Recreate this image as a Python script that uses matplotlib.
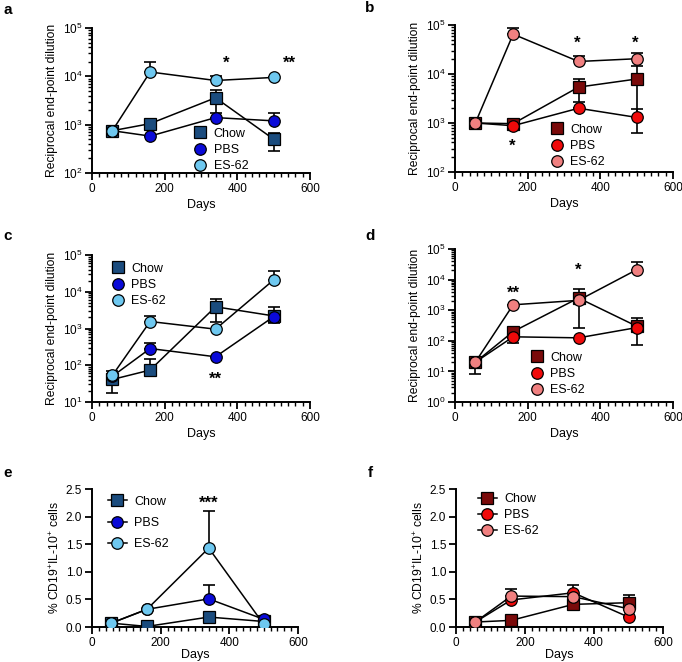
import matplotlib
matplotlib.use("Agg")
import matplotlib.pyplot as plt
from matplotlib.ticker import MultipleLocator, LogLocator, NullFormatter, FormatStrFormatter
import numpy as np

plt.rcParams['font.family'] = ['Liberation Sans', 'DejaVu Sans']
plt.rcParams['mathtext.default'] = 'regular'

days = [56, 160, 340, 500]
series_names = ["Chow", "PBS", "ES-62"]
blue_colors = ["#1B4C7E", "#0A0AD8", "#6EC8F0"]
red_colors = ["#7A0A0A", "#F00A0A", "#F08080"]
markers = ["s", "o", "o"]

# panel a
a_vals = {"Chow": [750, 1050, 3600, 500], "PBS": [750, 580, 1400, 1200], "ES-62": [750, 12300, 8200, 9500]}
a_lo = {"Chow": [700, 1050, 1750, 290], "PBS": [750, 580, 1400, 1200], "ES-62": [750, 12300, 8200, 9500]}
a_hi = {"Chow": [800, 1050, 5300, 680], "PBS": [750, 580, 1400, 1750], "ES-62": [750, 19800, 10000, 9500]}
a_stars = [("*", 369, 19000), ("**", 542, 19000)]

# panel b
b_vals = {"Chow": [1000, 970, 5400, 7900], "PBS": [1000, 880, 2000, 1300], "ES-62": [1000, 65000, 18000, 20500]}
b_lo = {"Chow": [1000, 970, 2650, 620], "PBS": [1000, 880, 2000, 1300], "ES-62": [1000, 65000, 18000, 20500]}
b_hi = {"Chow": [1000, 970, 7900, 14800], "PBS": [1000, 880, 2000, 1900], "ES-62": [1000, 85000, 23700, 26500]}
b_stars = [("*", 157, 330), ("*", 336, 42000), ("*", 495, 42000)]

# panel c
c_vals = {"Chow": [41, 74, 3900, 2200], "PBS": [50, 285, 170, 2100], "ES-62": [53, 1550, 960, 21000]}
c_lo = {"Chow": [18, 74, 1520, 1370], "PBS": [50, 285, 170, 2100], "ES-62": [53, 1550, 960, 21000]}
c_hi = {"Chow": [70, 145, 6300, 3900], "PBS": [50, 410, 170, 2100], "ES-62": [53, 2250, 960, 36000]}
c_stars = [("**", 339, 42)]

# panel d
d_vals = {"Chow": [20, 200, 2500, 300], "PBS": [20, 135, 125, 270], "ES-62": [20, 1500, 2100, 21000]}
d_lo = {"Chow": [8, 200, 270, 75], "PBS": [20, 85, 125, 270], "ES-62": [20, 1500, 2100, 21000]}
d_hi = {"Chow": [28, 250, 5000, 550], "PBS": [20, 135, 125, 270], "ES-62": [20, 1500, 2100, 37000]}
d_stars = [("**", 160, 3600), ("*", 339, 20000)]

# panel e
e_vals = {"Chow": [0.07, 0.01, 0.18, 0.10], "PBS": [0.07, 0.32, 0.51, 0.14], "ES-62": [0.07, 0.32, 1.43, 0.05]}
e_lo = {"Chow": [0.07, 0.01, 0.18, 0.10], "PBS": [0.07, 0.32, 0.51, 0.14], "ES-62": [0.07, 0.32, 1.43, 0.05]}
e_hi = {"Chow": [0.07, 0.01, 0.18, 0.10], "PBS": [0.07, 0.32, 0.76, 0.14], "ES-62": [0.07, 0.32, 2.10, 0.05]}
e_stars = [("***", 341, 2.25)]

# panel f
f_vals = {"Chow": [0.09, 0.12, 0.41, 0.44], "PBS": [0.09, 0.49, 0.62, 0.18], "ES-62": [0.09, 0.56, 0.55, 0.33]}
f_lo = {"Chow": [0.09, 0.12, 0.41, 0.30], "PBS": [0.09, 0.49, 0.62, 0.18], "ES-62": [0.09, 0.56, 0.55, 0.33]}
f_hi = {"Chow": [0.09, 0.12, 0.41, 0.58], "PBS": [0.09, 0.49, 0.76, 0.18], "ES-62": [0.09, 0.69, 0.55, 0.33]}
f_stars = []

ylab_log = "Reciprocal end-point dilution"
ylab_lin = "% CD19$^{+}$IL-10$^{+}$ cells"

W, H = 682, 662
fig = plt.figure(figsize=(W / 100, H / 100), dpi=100)


def px_axes(l, r, t, b):
    return fig.add_axes([l / W, 1 - b / H, (r - l) / W, (b - t) / H])


def draw(ax, vals, lo, hi, colors, stars, log, ylim, ylabel, leg_anchor, leg_lines, leg_spacing, xlabelpad=3):
    handles = []
    for name, col, mk in zip(series_names, colors, markers):
        v = np.array(vals[name], float)
        yerr = np.vstack([v - np.array(lo[name]), np.array(hi[name]) - v])
        ax.errorbar(days, v, yerr=yerr, fmt="none", ecolor="black", elinewidth=1.2,
                    capsize=4, capthick=1.2, zorder=2)
        ax.plot(days, v, color="black", lw=1.1, zorder=3)
        ax.plot(days, v, ls="none", marker=mk, ms=8.3, mfc=col, mec="black", mew=0.9, zorder=4)
        h, = ax.plot([], [], color="black", lw=1.1 if leg_lines else 0, ls="-" if leg_lines else "none",
                     marker=mk, ms=8.3, mfc=col, mec="black", mew=0.9)
        handles.append(h)
    for s, x, y in stars:
        ax.text(x, y, s, ha="center", va="center", fontsize=12, fontweight="bold")
    ax.set_xlim(0, 600)
    ax.set_ylim(*ylim)
    if log:
        ax.set_yscale("log")
        ax.yaxis.set_major_locator(LogLocator(base=10, numticks=10))
        ax.yaxis.set_minor_locator(LogLocator(base=10, subs=np.arange(2, 10), numticks=20))
        ax.yaxis.set_minor_formatter(NullFormatter())
    else:
        ax.yaxis.set_major_locator(MultipleLocator(0.5))
        ax.yaxis.set_major_formatter(FormatStrFormatter("%.1f"))
    ax.xaxis.set_major_locator(MultipleLocator(200))
    ax.xaxis.set_minor_locator(MultipleLocator(20))
    for sp in ["top", "right"]:
        ax.spines[sp].set_visible(False)
    for sp in ["left", "bottom"]:
        ax.spines[sp].set_linewidth(1.4)
    ax.tick_params(which="major", length=5, width=1.3, labelsize=8.5, pad=2)
    ax.tick_params(which="minor", length=3, width=1.0)
    ax.set_xlabel("Days", fontsize=9, labelpad=xlabelpad)
    ax.set_ylabel(ylabel, fontsize=8.7, labelpad=3)
    ax.legend(handles, series_names, loc="center left", bbox_to_anchor=leg_anchor, frameon=False,
              fontsize=9, borderpad=0, borderaxespad=0, handlelength=1.5 if leg_lines else 1.0,
              handletextpad=0.6, labelspacing=leg_spacing)


ax_a = px_axes(92, 310, 28, 173)
draw(ax_a, a_vals, a_lo, a_hi, blue_colors, a_stars, True, (1e2, 1e5), ylab_log, (0.466, 0.159), False, 0.35)
ax_b = px_axes(455, 673, 25, 172)
draw(ax_b, b_vals, b_lo, b_hi, red_colors, b_stars, True, (1e2, 1e5), ylab_log, (0.438, 0.177), False, 0.35)
ax_c = px_axes(92, 310, 255, 402)
draw(ax_c, c_vals, c_lo, c_hi, blue_colors, c_stars, True, (1e1, 1e5), ylab_log, (0.089, 0.796), False, 0.35)
ax_d = px_axes(455, 673, 249, 402)
draw(ax_d, d_vals, d_lo, d_hi, red_colors, d_stars, True, (1e0, 1e5), ylab_log, (0.346, 0.183), False, 0.35)
ax_e = px_axes(92, 298, 489, 627)
draw(ax_e, e_vals, e_lo, e_hi, blue_colors, e_stars, False, (0, 2.5), ylab_lin, (0.078, 0.754), True, 0.75, xlabelpad=0.5)
ax_f = px_axes(456, 663, 489, 627)
draw(ax_f, f_vals, f_lo, f_hi, red_colors, f_stars, False, (0, 2.5), ylab_lin, (0.106, 0.81), True, 0.3, xlabelpad=0.5)

for lab, x, y in [("a", 8, 10), ("b", 370, 8), ("c", 8, 236), ("d", 370, 236), ("e", 8, 473), ("f", 370, 473)]:
    fig.text(x / W, 1 - y / H, lab, fontsize=11, fontweight="bold", ha="center", va="center")

fig.savefig("out.png", dpi=100)
